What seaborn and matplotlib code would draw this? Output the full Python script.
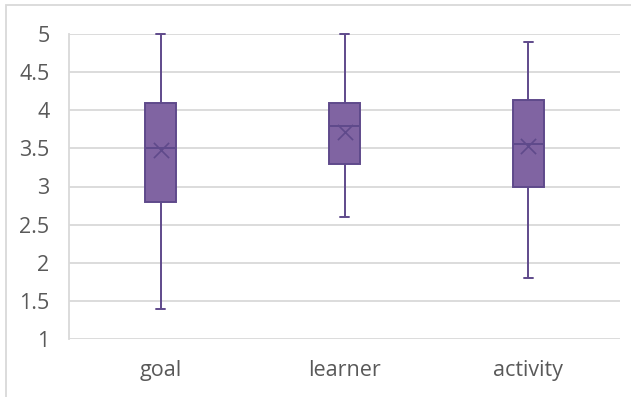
import numpy as np
import pandas as pd
import matplotlib
matplotlib.use("Agg")
import matplotlib.pyplot as plt
from matplotlib.patches import Rectangle
import seaborn as sns

# Five-number summaries and means per category
categories = ["goal", "learner", "activity"]
mins = [1.4, 2.6, 1.8]
q1 = [2.8, 3.3, 3.0]
medians = [3.5, 3.8, 3.56]
q3 = [4.1, 4.1, 4.13]
maxs = [5.0, 5.0, 4.9]
means = [3.48, 3.72, 3.53]
yticks = [1, 1.5, 2, 2.5, 3, 3.5, 4, 4.5, 5]
ytick_labels = ["1", "1.5", "2", "2.5", "3", "3.5", "4", "4.5", "5"]

# Long table: with five points per group, linear percentiles give exactly
# min / q1 / median / q3 / max, and whis=(0, 100) puts whiskers at min/max.
rows = []
for c, a, b, m, d, e in zip(categories, mins, q1, medians, q3, maxs):
    for v in (a, b, m, d, e):
        rows.append({"group": c, "score": v})
df = pd.DataFrame(rows)
mean_df = pd.DataFrame({"group": categories, "score": means})

sns.set_style("white")
plt.rcParams["font.family"] = ["Open Sans", "DejaVu Sans"]

fill = "#8064a2"
edge = "#5f4a8b"
grid = "#d9d9d9"
text = "#595959"

fig = plt.figure(figsize=(6.31, 3.97), dpi=100)
ax = fig.add_axes([69 / 631, 1 - 339 / 397, 551 / 631, 305 / 397])

sns.boxplot(
    data=df, x="group", y="score", order=categories, ax=ax,
    whis=(0, 100), width=0.17, color=fill, saturation=1,
    linecolor=edge, linewidth=1.4,
    boxprops={"facecolor": fill, "edgecolor": edge},
    whiskerprops={"color": edge, "linewidth": 1.4},
    capprops={"color": edge, "linewidth": 1.4},
    medianprops={"color": edge, "linewidth": 1.4},
    capwidths=0.05,
)
for art in ax.lines:
    art.set_clip_on(False)
    art.set_zorder(4)
for p in ax.patches:
    p.set_zorder(3)

# Horizontal gridlines behind the boxes
for y in yticks:
    ax.axhline(y, color=grid, lw=1.3, zorder=0)

sns.scatterplot(
    data=mean_df, x="group", y="score", ax=ax, marker="x",
    s=120, color=edge, linewidth=1.2, zorder=5, legend=False,
)

ax.set_ylim(1, 5)
ax.set_xlim(-0.5, 2.5)
ax.set_yticks(yticks)
ax.set_yticklabels(ytick_labels)
ax.set_xlabel("")
ax.set_ylabel("")
ax.tick_params(axis="both", length=0, colors=text, labelsize=15.5)
ax.tick_params(axis="y", pad=14)
ax.tick_params(axis="x", pad=15)
for s in ["top", "right", "bottom"]:
    ax.spines[s].set_visible(False)
ax.spines["left"].set_color(grid)
ax.spines["left"].set_linewidth(1.3)

# Outer chart frame
fig.patches.append(Rectangle((6 / 631, -0.05), 1.2, 1 - 5 / 397 + 0.05,
                             transform=fig.transFigure, fill=False,
                             edgecolor=grid, linewidth=1.3))

fig.savefig("out.png", dpi=100)
